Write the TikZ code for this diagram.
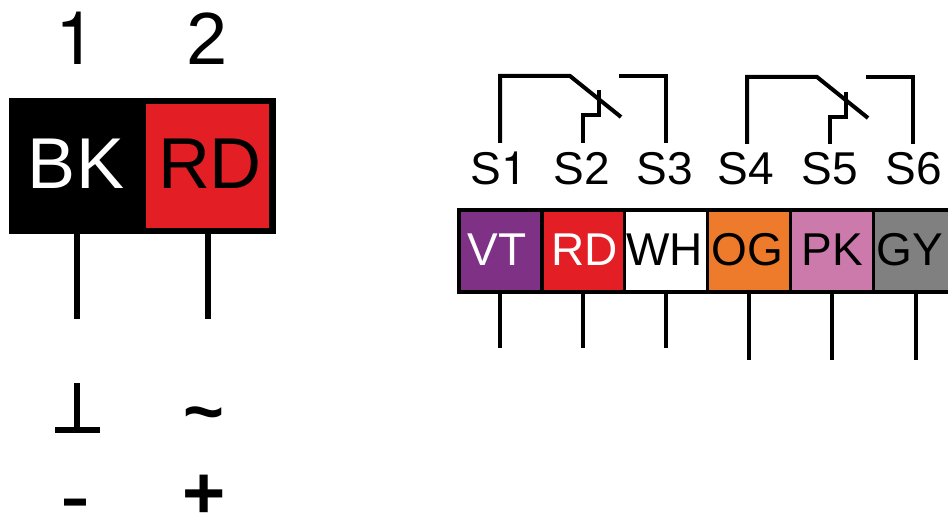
\documentclass[tikz,border=0pt]{standalone}
\usepackage{fontspec}
\setmainfont{Liberation Sans}
\newfontfamily\hv{TeX Gyre Heros}
\definecolor{cvt}{HTML}{7F3186}
\definecolor{crd}{HTML}{E31E24}
\definecolor{cog}{HTML}{EE7B2B}
\definecolor{cpk}{HTML}{CC79AC}
\definecolor{cgy}{HTML}{808080}
\tikzset{
  big/.style={inner sep=0pt,anchor=base,font=\fontsize{72}{72}\selectfont},
  digit/.style={inner sep=0pt,anchor=base,font=\fontsize{74}{74}\selectfont},
  symb/.style={inner sep=0pt,anchor=base,font=\fontsize{#1}{#1}\selectfont\bfseries},
  small/.style={inner sep=0pt,anchor=base,font=\fontsize{46}{46}\selectfont},
  cell/.style={draw=black,line width=3.8pt,inner sep=0pt,minimum height=82.5pt},
  wirea/.style={line width=6pt,black},
  wireb/.style={line width=4pt,black,miter limit=10},
}
\begin{document}
\begin{tikzpicture}[x=1pt,y=-1pt]
\useasboundingbox (0,0) rectangle (948,516);
\clip (0,0) rectangle (948,516);
% left connector
\node[fill=black,inner sep=0pt,minimum width=267pt,minimum height=136pt] (lbox) at (142.5,166) {};
\node[fill=crd,inner sep=0pt,minimum width=123pt,minimum height=124pt] (lred) at (207.5,166) {};
\node[digit] (n1) at (76,65) {\hv 1};
\node[digit] (n2) at (207,65) {2};
\node[big,text=white] (bk) at (76,188) {BK};
\node[big] (rdl) at (210,188) {RD};
\coordinate (la) at (77,319);
\coordinate (lb) at (207.5,319);
\draw[wirea] (la|-lbox.south) -- (la);
\draw[wirea] (lb|-lbox.south) -- (lb);
% symbols
\coordinate (gt) at (77,383);
\coordinate (gb) at (77,430);
\coordinate (gl) at (55,430);
\coordinate (gr) at (100,430);
\draw[line width=6pt] (gt) -- (gb);
\draw[line width=6pt] (gl) -- (gr);
\node[symb=70] (tilde) at (204,435) {\char`\~};
\node[inner sep=0pt,anchor=base,font=\fontsize{90}{90}\selectfont] (minus) at (75.5,526) {-};
\node[symb=74] (plus) at (204,518) {+};
% strip cells
\node[cell,fill=cvt,minimum width=83pt] (c1) at (500.5,251) {};
\node[cell,fill=crd,minimum width=82.5pt] (c2) at (583.25,251) {};
\node[cell,fill=white,minimum width=83pt] (c3) at (666,251) {};
\node[cell,fill=cog,minimum width=83pt] (c4) at (749,251) {};
\node[cell,fill=cpk,minimum width=83pt] (c5) at (832,251) {};
\node[cell,fill=cgy,minimum width=83pt] (c6) at (915,251) {};
\node[small,text=white] (t1) at (497,265) {VT};
\node[small,text=white] (t2) at (585,265) {RD};
\node[small] (t3) at (664.5,265) {WH};
\node[small] (t4) at (747.5,265) {OG};
\node[small] (t5) at (832,265) {PK};
\node[small] (t6) at (910,265) {GY};
\node[small] (s1) at (498.5,184) {S{\hv 1}};
\node[small] (s2) at (582,184) {S2};
\node[small] (s3) at (665,184) {S3};
\node[small] (s4) at (746,184) {S4};
\node[small] (s5) at (830,184) {S5};
\node[small] (s6) at (914,184) {S6};
% wires under the strip
\foreach \a/\xx/\yy in {c1/500/348,c2/583/348,c3/666/348,c4/749/360,c5/832/360,c6/916/360}{
  \coordinate (e\a) at (\xx,\yy);
  \draw[wireb] (e\a|-\a.south) -- (e\a);
}
% first switch
\coordinate (p1) at (500,143);
\coordinate (p2) at (500,76);
\coordinate (p3) at (570,76);
\coordinate (p4) at (621,117);
\draw[wireb] (p1) -- (p2) -- (p3) -- (p4);
\coordinate (q1) at (583,143);
\coordinate (q2) at (583,115);
\coordinate (q3) at (599,115);
\coordinate (q4) at (599,90);
\draw[wireb] (q1) -- (q2) -- (q3) -- (q4);
\coordinate (r1) at (619,76);
\coordinate (r2) at (666,76);
\coordinate (r3) at (666,143);
\draw[wireb] (r1) -- (r2) -- (r3);
% second switch
\coordinate (p5) at (747,144);
\coordinate (p6) at (747,77);
\coordinate (p7) at (817,77);
\coordinate (p8) at (868,118);
\draw[wireb] (p5) -- (p6) -- (p7) -- (p8);
\coordinate (q5) at (830,144);
\coordinate (q6) at (830,117);
\coordinate (q7) at (846,117);
\coordinate (q8) at (846,92);
\draw[wireb] (q5) -- (q6) -- (q7) -- (q8);
\coordinate (r4) at (866,77);
\coordinate (r5) at (912.5,77);
\coordinate (r6) at (912.5,144);
\draw[wireb] (r4) -- (r5) -- (r6);
\end{tikzpicture}
\end{document}
